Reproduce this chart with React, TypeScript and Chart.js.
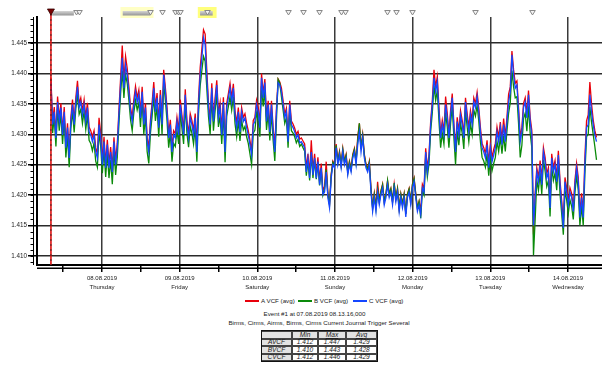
import React, { useEffect, useRef } from 'react';
import { Chart, registerables } from 'chart.js';

Chart.register(...registerables);

const FONT = '"Liberation Sans", Arial, sans-serif';

// hours counted from 07.08.2019 00:00
const START_HOUR = 8.22;
const STEP_HOURS = 0.5124;

const A_VCF = [
  1.4393, 1.4320, 1.4345, 1.4299, 1.4362, 1.4326, 1.4351, 1.4304, 1.4345, 1.4283,
  1.4318, 1.4266, 1.4327, 1.4357, 1.4322, 1.4360, 1.4388, 1.4350, 1.4360, 1.4338,
  1.4357, 1.4328, 1.4352, 1.4312, 1.4306, 1.4296, 1.4306, 1.4278, 1.4268, 1.4327,
  1.4302, 1.4256, 1.4296, 1.4251, 1.4291, 1.4252, 1.4279, 1.4245, 1.4295, 1.4257,
  1.4285, 1.4340, 1.4392, 1.4446, 1.4388, 1.4428, 1.4408, 1.4378, 1.4344, 1.4328,
  1.4357, 1.4379, 1.4360, 1.4373, 1.4334, 1.4378, 1.4323, 1.4351, 1.4295, 1.4278,
  1.4323, 1.4352, 1.4386, 1.4344, 1.4368, 1.4318, 1.4373, 1.4323, 1.4406, 1.4377,
  1.4344, 1.4301, 1.4324, 1.4278, 1.4306, 1.4301, 1.4328, 1.4306, 1.4357,
  1.4331, 1.4306, 1.4374, 1.4323, 1.4301, 1.4334, 1.4323, 1.4306, 1.4334, 1.4280,
  1.4358, 1.4410, 1.4440, 1.4472, 1.4465, 1.4404, 1.4352, 1.4324, 1.4384, 1.4328,
  1.4360, 1.4389, 1.4334, 1.4352, 1.4306, 1.4361, 1.4279, 1.4351, 1.4367, 1.4384,
  1.4360, 1.4383, 1.4339, 1.4318, 1.4344, 1.4311, 1.4344, 1.4328, 1.4334, 1.4318,
  1.4306, 1.4290, 1.4273, 1.4323, 1.4328, 1.4356, 1.4344, 1.4318, 1.4400, 1.4367,
  1.4391, 1.4328, 1.4355, 1.4311, 1.4355, 1.4311, 1.4278, 1.4343, 1.4391, 1.4386,
  1.4376, 1.4355, 1.4333, 1.4343, 1.4294, 1.4355, 1.4322, 1.4317, 1.4310, 1.4300,
  1.4305, 1.4292, 1.4294, 1.4289, 1.4284, 1.4244, 1.4268, 1.4234, 1.4290, 1.4240,
  1.4268, 1.4234, 1.4262, 1.4224, 1.4252, 1.4208,
  1.4214, 1.4255, 1.4204, 1.4186, 1.4234, 1.4256, 1.4251, 1.4284, 1.4256, 1.4272,
  1.4251, 1.4277, 1.4256, 1.4267, 1.4239, 1.4256, 1.4244, 1.4267, 1.4277, 1.4256,
  1.4295, 1.4318, 1.4278, 1.4300, 1.4267, 1.4251, 1.4244, 1.4256, 1.4212, 1.4180,
  1.4203, 1.4180, 1.4222, 1.4191, 1.4207, 1.4218, 1.4190, 1.4202, 1.4223, 1.4202,
  1.4211, 1.4190, 1.4218, 1.4195, 1.4211, 1.4179, 1.4202, 1.4185, 1.4202, 1.4170,
  1.4202, 1.4211, 1.4190, 1.4218, 1.4228, 1.4202, 1.4179, 1.4190, 1.4174, 1.4218,
  1.4211, 1.4277, 1.4244, 1.4267, 1.4322, 1.4356, 1.4406, 1.4378, 1.4395, 1.4344,
  1.4300, 1.4323, 1.4305, 1.4362, 1.4334, 1.4300, 1.4339, 1.4367, 1.4317, 1.4277,
  1.4328, 1.4305, 1.4339, 1.4323, 1.4300, 1.4360,
  1.4334, 1.4311, 1.4339, 1.4323, 1.4360, 1.4351, 1.4369, 1.4344, 1.4311, 1.4285,
  1.4278, 1.4268, 1.4290, 1.4252, 1.4285, 1.4262, 1.4275, 1.4285, 1.4312, 1.4295,
  1.4320, 1.4290, 1.4326, 1.4295, 1.4328, 1.4366, 1.4378, 1.4437, 1.4406, 1.4384,
  1.4388, 1.4344, 1.4295, 1.4311, 1.4351, 1.4360, 1.4334, 1.4372, 1.4328, 1.4306,
  1.4135, 1.4203, 1.4245, 1.4229, 1.4257, 1.4224, 1.4278, 1.4262, 1.4235, 1.4245,
  1.4186, 1.4268, 1.4245, 1.4257, 1.4229, 1.4273, 1.4224, 1.4191, 1.4155, 1.4229,
  1.4212, 1.4191, 1.4212, 1.4203, 1.4180, 1.4224, 1.4252, 1.4229, 1.4170, 1.4203,
  1.4170, 1.4262, 1.4322, 1.4332, 1.4386, 1.4350, 1.4324, 1.4306, 1.4295,
];

const B_VCF = [
  1.4370, 1.4302, 1.4328, 1.4280, 1.4343, 1.4306, 1.4334, 1.4284, 1.4326, 1.4262,
  1.4298, 1.4246, 1.4310, 1.4338, 1.4303, 1.4342, 1.4366, 1.4333, 1.4341, 1.4318,
  1.4338, 1.4308, 1.4332, 1.4290, 1.4285, 1.4273, 1.4286, 1.4256, 1.4246, 1.4303,
  1.4280, 1.4236, 1.4276, 1.4230, 1.4270, 1.4228, 1.4258, 1.4218, 1.4275, 1.4233,
  1.4262, 1.4318, 1.4366, 1.4405, 1.4360, 1.4398, 1.4384, 1.4356, 1.4324, 1.4306,
  1.4336, 1.4356, 1.4340, 1.4352, 1.4312, 1.4356, 1.4300, 1.4330, 1.4272, 1.4252,
  1.4302, 1.4330, 1.4362, 1.4322, 1.4346, 1.4296, 1.4351, 1.4300, 1.4384, 1.4356,
  1.4322, 1.4278, 1.4302, 1.4255, 1.4285, 1.4280, 1.4307, 1.4284, 1.4336,
  1.4310, 1.4284, 1.4350, 1.4302, 1.4279, 1.4313, 1.4302, 1.4284, 1.4312, 1.4255,
  1.4334, 1.4380, 1.4405, 1.4428, 1.4420, 1.4375, 1.4330, 1.4300, 1.4362, 1.4306,
  1.4339, 1.4367, 1.4312, 1.4330, 1.4284, 1.4339, 1.4254, 1.4330, 1.4346, 1.4362,
  1.4340, 1.4362, 1.4318, 1.4296, 1.4323, 1.4289, 1.4323, 1.4307, 1.4313, 1.4296,
  1.4285, 1.4268, 1.4250, 1.4302, 1.4307, 1.4335, 1.4323, 1.4296, 1.4380, 1.4346,
  1.4372, 1.4307, 1.4336, 1.4290, 1.4336, 1.4290, 1.4256, 1.4324, 1.4390, 1.4384,
  1.4362, 1.4340, 1.4318, 1.4328, 1.4278, 1.4340, 1.4306, 1.4302, 1.4296, 1.4286,
  1.4292, 1.4280, 1.4284, 1.4278, 1.4272, 1.4232, 1.4256, 1.4224, 1.4266, 1.4228,
  1.4258, 1.4226, 1.4252, 1.4216, 1.4242, 1.4200,
  1.4210, 1.4242, 1.4200, 1.4184, 1.4232, 1.4254, 1.4249, 1.4282, 1.4254, 1.4270,
  1.4249, 1.4275, 1.4254, 1.4265, 1.4237, 1.4254, 1.4242, 1.4265, 1.4275, 1.4254,
  1.4290, 1.4318, 1.4276, 1.4298, 1.4265, 1.4249, 1.4242, 1.4254, 1.4209, 1.4178,
  1.4201, 1.4178, 1.4210, 1.4189, 1.4206, 1.4217, 1.4189, 1.4201, 1.4224, 1.4201,
  1.4210, 1.4189, 1.4220, 1.4194, 1.4210, 1.4178, 1.4201, 1.4184, 1.4201, 1.4169,
  1.4201, 1.4210, 1.4189, 1.4217, 1.4227, 1.4201, 1.4178, 1.4189, 1.4162, 1.4208,
  1.4200, 1.4262, 1.4230, 1.4252, 1.4305, 1.4336, 1.4380, 1.4356, 1.4372, 1.4322,
  1.4278, 1.4302, 1.4284, 1.4336, 1.4312, 1.4278, 1.4318, 1.4346, 1.4295, 1.4250,
  1.4306, 1.4282, 1.4318, 1.4302, 1.4276, 1.4340,
  1.4312, 1.4288, 1.4318, 1.4300, 1.4340, 1.4330, 1.4348, 1.4322, 1.4288, 1.4262,
  1.4256, 1.4246, 1.4268, 1.4232, 1.4262, 1.4240, 1.4252, 1.4262, 1.4288, 1.4272,
  1.4295, 1.4268, 1.4298, 1.4272, 1.4306, 1.4335, 1.4352, 1.4405, 1.4378, 1.4360,
  1.4362, 1.4318, 1.4262, 1.4282, 1.4326, 1.4335, 1.4305, 1.4346, 1.4302, 1.4278,
  1.4101, 1.4160, 1.4225, 1.4208, 1.4236, 1.4202, 1.4258, 1.4240, 1.4214, 1.4224,
  1.4165, 1.4246, 1.4224, 1.4236, 1.4208, 1.4252, 1.4202, 1.4170, 1.4135, 1.4208,
  1.4192, 1.4170, 1.4192, 1.4182, 1.4160, 1.4204, 1.4232, 1.4208, 1.4150, 1.4182,
  1.4150, 1.4236, 1.4296, 1.4300, 1.4345, 1.4320, 1.4300, 1.4280, 1.4258,
];

const C_VCF = [
  1.4385, 1.4316, 1.4337, 1.4294, 1.4353, 1.4321, 1.4344, 1.4299, 1.4337, 1.4278,
  1.4311, 1.4261, 1.4321, 1.4349, 1.4316, 1.4353, 1.4378, 1.4344, 1.4353, 1.4332,
  1.4349, 1.4321, 1.4344, 1.4304, 1.4299, 1.4288, 1.4299, 1.4271, 1.4261, 1.4316,
  1.4294, 1.4250, 1.4288, 1.4245, 1.4283, 1.4245, 1.4271, 1.4238, 1.4288, 1.4250,
  1.4278, 1.4332, 1.4381, 1.4426, 1.4376, 1.4414, 1.4398, 1.4370, 1.4337, 1.4321,
  1.4349, 1.4370, 1.4353, 1.4365, 1.4327, 1.4370, 1.4316, 1.4344, 1.4288, 1.4271,
  1.4316, 1.4344, 1.4376, 1.4337, 1.4360, 1.4311, 1.4365, 1.4316, 1.4398, 1.4370,
  1.4337, 1.4294, 1.4316, 1.4271, 1.4299, 1.4294, 1.4321, 1.4299, 1.4349,
  1.4324, 1.4299, 1.4365, 1.4316, 1.4294, 1.4327, 1.4316, 1.4299, 1.4327, 1.4271,
  1.4349, 1.4398, 1.4426, 1.4459, 1.4447, 1.4393, 1.4344, 1.4316, 1.4376, 1.4321,
  1.4353, 1.4381, 1.4327, 1.4344, 1.4299, 1.4353, 1.4271, 1.4344, 1.4360, 1.4376,
  1.4353, 1.4376, 1.4332, 1.4311, 1.4337, 1.4304, 1.4337, 1.4321, 1.4327, 1.4311,
  1.4299, 1.4283, 1.4266, 1.4316, 1.4321, 1.4349, 1.4337, 1.4311, 1.4393, 1.4360,
  1.4385, 1.4321, 1.4349, 1.4304, 1.4349, 1.4304, 1.4271, 1.4337, 1.4385, 1.4381,
  1.4370, 1.4349, 1.4327, 1.4337, 1.4288, 1.4349, 1.4316, 1.4311, 1.4304, 1.4294,
  1.4299, 1.4286, 1.4288, 1.4283, 1.4278, 1.4238, 1.4261, 1.4228, 1.4271, 1.4233,
  1.4261, 1.4228, 1.4255, 1.4217, 1.4245, 1.4201,
  1.4205, 1.4238, 1.4196, 1.4179, 1.4228, 1.4250, 1.4245, 1.4278, 1.4250, 1.4266,
  1.4245, 1.4271, 1.4250, 1.4261, 1.4233, 1.4250, 1.4238, 1.4261, 1.4271, 1.4250,
  1.4283, 1.4304, 1.4271, 1.4294, 1.4261, 1.4245, 1.4238, 1.4250, 1.4205, 1.4173,
  1.4196, 1.4173, 1.4205, 1.4184, 1.4201, 1.4212, 1.4184, 1.4196, 1.4217, 1.4196,
  1.4205, 1.4184, 1.4212, 1.4189, 1.4205, 1.4173, 1.4196, 1.4179, 1.4196, 1.4164,
  1.4196, 1.4205, 1.4184, 1.4212, 1.4222, 1.4196, 1.4173, 1.4184, 1.4168, 1.4212,
  1.4205, 1.4271, 1.4238, 1.4261, 1.4316, 1.4349, 1.4393, 1.4370, 1.4386, 1.4337,
  1.4294, 1.4316, 1.4299, 1.4349, 1.4327, 1.4294, 1.4332, 1.4360, 1.4311, 1.4271,
  1.4321, 1.4299, 1.4332, 1.4316, 1.4294, 1.4353,
  1.4327, 1.4304, 1.4332, 1.4316, 1.4353, 1.4344, 1.4362, 1.4337, 1.4304, 1.4278,
  1.4271, 1.4261, 1.4283, 1.4245, 1.4278, 1.4255, 1.4266, 1.4278, 1.4304, 1.4288,
  1.4311, 1.4283, 1.4316, 1.4288, 1.4321, 1.4353, 1.4370, 1.4431, 1.4398, 1.4376,
  1.4381, 1.4337, 1.4288, 1.4304, 1.4344, 1.4353, 1.4327, 1.4365, 1.4321, 1.4299,
  1.4150, 1.4196, 1.4238, 1.4222, 1.4250, 1.4217, 1.4271, 1.4255, 1.4228, 1.4238,
  1.4179, 1.4261, 1.4238, 1.4250, 1.4222, 1.4266, 1.4217, 1.4184, 1.4146, 1.4222,
  1.4205, 1.4184, 1.4205, 1.4196, 1.4173, 1.4217, 1.4245, 1.4222, 1.4163, 1.4196,
  1.4163, 1.4250, 1.4311, 1.4316, 1.4365, 1.4337, 1.4316, 1.4299, 1.4288,
];

const SERIES_NAMES = ['A VCF (avg)', 'B VCF (avg)', 'C VCF (avg)'];
const SERIES_COLORS = ['#e8000b', '#0a8a0a', '#1446ff'];

const X_MIN = 3.91;
const X_MAX = 178.5;
const X_TICKS = [12, 24, 36, 48, 60, 72, 84, 96, 108, 120, 132, 144, 156, 168];
const DAY_TICKS = [24, 48, 72, 96, 120, 144, 168];
const DAY_DATES = ['08.08.2019', '09.08.2019', '10.08.2019', '11.08.2019', '12.08.2019', '13.08.2019', '14.08.2019'];
const DAY_NAMES = ['Thursday', 'Friday', 'Saturday', 'Sunday', 'Monday', 'Tuesday', 'Wednesday'];

const Y_MIN = 1.4085;
const Y_MAX = 1.4493;
const Y_TICKS = [1.41, 1.415, 1.42, 1.425, 1.43, 1.435, 1.44, 1.445];

const EVENT_MAIN = 8.22;
const EVENT_MARKS = [15.94, 16.96, 38.8, 42.6, 46.5, 47.4, 48.2, 56.5, 81.5, 86.0, 91.1, 98.0, 99.0, 112.1, 114.8, 119.9, 139.2, 157.0];
const GREY_RANGES = [[8.6, 15.3], [30.4, 39.0], [54.3, 58.2]];
const YELLOW_RANGES = [[29.7, 39.9], [53.6, 59.4]];

const TABLE_HEAD = ['', 'Min', 'Max', 'Avg'];
const TABLE_ROWS = ['AVCF', 'BVCF', 'CVCF'];
const TABLE_MIN = ['1.412', '1.410', '1.412'];
const TABLE_MAX = ['1.447', '1.443', '1.446'];
const TABLE_AVG = ['1.429', '1.428', '1.429'];

const toPoints = (vals: number[]) => vals.map((v, i) => ({ x: START_HOUR + i * STEP_HOURS, y: v }));

const decorPlugin = {
  id: 'decor',
  afterDraw(chart: any) {
    const { ctx, chartArea: a, scales } = chart;
    const x = scales.x;
    const y = scales.y;
    ctx.save();
    ctx.strokeStyle = '#000';
    ctx.lineWidth = 1;
    ctx.beginPath();
    ctx.moveTo(a.left - 3.5, a.top);
    ctx.lineTo(a.left - 3.5, a.bottom);
    for (let k = Math.ceil(Y_MIN * 1000); k <= Math.floor(Y_MAX * 1000); k++) {
      const py = Math.round(y.getPixelForValue(k / 1000)) + 0.5;
      ctx.moveTo(a.left - 6.5, py);
      ctx.lineTo(a.left - 3.5, py);
    }
    ctx.stroke();
    ctx.lineWidth = 1.5;
    ctx.beginPath();
    ctx.moveTo(a.left, a.bottom + 3.25);
    ctx.lineTo(a.right, a.bottom + 3.25);
    ctx.stroke();

    YELLOW_RANGES.forEach(([s, e], idx) => {
      const x0 = x.getPixelForValue(s);
      const x1 = x.getPixelForValue(e);
      ctx.fillStyle = idx === 0 ? 'rgba(255,255,150,0.55)' : 'rgba(255,255,110,0.9)';
      ctx.fillRect(x0, 7, x1 - x0, 11);
    });
    GREY_RANGES.forEach(([s, e]) => {
      const x0 = x.getPixelForValue(s);
      const x1 = x.getPixelForValue(e);
      const g = ctx.createLinearGradient(0, 11, 0, 16);
      g.addColorStop(0, '#d6d6d6');
      g.addColorStop(1, '#8c8c8c');
      ctx.fillStyle = g;
      ctx.fillRect(x0, 11, x1 - x0, 4.5);
    });
    EVENT_MARKS.forEach((h) => {
      const px = Math.round(x.getPixelForValue(h)) + 0.5;
      ctx.beginPath();
      ctx.moveTo(px - 2.8, 10.5);
      ctx.lineTo(px + 2.8, 10.5);
      ctx.lineTo(px, 15);
      ctx.closePath();
      ctx.fillStyle = '#f2f2f2';
      ctx.fill();
      ctx.strokeStyle = '#888';
      ctx.lineWidth = 1;
      ctx.stroke();
    });
    const ex = x.getPixelForValue(EVENT_MAIN);
    ctx.strokeStyle = '#e01010';
    ctx.lineWidth = 1.6;
    ctx.beginPath();
    ctx.moveTo(ex, 12);
    ctx.lineTo(ex, a.bottom);
    ctx.stroke();
    ctx.strokeStyle = '#222';
    ctx.lineWidth = 0.8;
    ctx.setLineDash([2, 3]);
    ctx.beginPath();
    ctx.moveTo(ex, 14);
    ctx.lineTo(ex, a.bottom);
    ctx.stroke();
    ctx.setLineDash([]);
    ctx.beginPath();
    ctx.moveTo(ex - 3.5, 9);
    ctx.lineTo(ex + 3.5, 9);
    ctx.lineTo(ex, 15);
    ctx.closePath();
    ctx.fillStyle = '#7a0000';
    ctx.fill();
    ctx.strokeStyle = '#300';
    ctx.lineWidth = 0.8;
    ctx.stroke();
    ctx.restore();
  },
};

function ChartCanvas() {
  const ref = useRef<HTMLCanvasElement | null>(null);
  useEffect(() => {
    if (!ref.current) return;
    Chart.defaults.font.family = FONT;
    const seriesVals = [A_VCF, B_VCF, C_VCF];
    const chart = new Chart(ref.current, {
      type: 'line',
      data: {
        datasets: seriesVals.map((vals, i) => ({
          label: SERIES_NAMES[i],
          data: toPoints(vals),
          borderColor: SERIES_COLORS[i],
          backgroundColor: SERIES_COLORS[i],
          borderWidth: 1.3,
          pointRadius: 0,
          tension: 0,
          order: 3 - i,
        })),
      },
      options: {
        animation: false,
        responsive: false,
        maintainAspectRatio: false,
        layout: { padding: { top: 17, left: 0, right: 0, bottom: 0 } },
        plugins: { legend: { display: false }, tooltip: { enabled: false } },
        events: [],
        scales: {
          x: {
            type: 'linear',
            min: X_MIN,
            max: X_MAX,
            afterBuildTicks: (s: any) => {
              s.ticks = X_TICKS.map((v) => ({ value: v }));
            },
            afterFit: (s: any) => {
              s.height = 30;
            },
            ticks: {
              autoSkip: false,
              maxRotation: 0,
              minRotation: 0,
              padding: 2,
              color: '#222',
              font: { size: 6, family: FONT, lineHeight: 1.5 },
              callback: (v: any) => {
                const k = DAY_TICKS.indexOf(Number(v));
                return k >= 0 ? [DAY_DATES[k], DAY_NAMES[k]] : '';
              },
            },
            grid: {
              color: (c: any) => (c.tick && DAY_TICKS.indexOf(c.tick.value) >= 0 ? '#3a3a3a' : 'rgba(0,0,0,0)'),
              lineWidth: 1.5,
              tickColor: '#000',
              tickLength: 7,
            },
            border: { color: '#000', width: 2 },
          },
          y: {
            type: 'linear',
            min: Y_MIN,
            max: Y_MAX,
            afterBuildTicks: (s: any) => {
              s.ticks = Y_TICKS.map((v) => ({ value: v }));
            },
            afterFit: (s: any) => {
              s.width = 37;
            },
            ticks: {
              padding: 1,
              color: '#222',
              font: { size: 6.3, family: FONT },
              callback: (v: any) => Number(v).toFixed(3),
            },
            grid: {
              color: '#2a2a2a',
              lineWidth: 1.5,
              tickColor: '#000',
              tickLength: 9,
            },
            border: { color: '#000', width: 2 },
          },
        },
      },
      plugins: [decorPlugin],
    } as any);
    return () => chart.destroy();
  }, []);
  return <canvas ref={ref} width={602} height={295} style={{ display: 'block', position: 'absolute', left: 0, top: 0 }} />;
}

const txt: React.CSSProperties = { position: 'absolute', fontFamily: FONT, fontSize: 6.2, color: '#222', whiteSpace: 'nowrap', lineHeight: '8px' };

const COL_X = [261, 292, 318, 346, 377];
const ROW_Y = [330.5, 338.5, 346, 353.5, 361];

function StatsTable() {
  const cells: React.ReactNode[] = [];
  const rows = [TABLE_HEAD, ...TABLE_ROWS.map((r, i) => [r, TABLE_MIN[i], TABLE_MAX[i], TABLE_AVG[i]])];
  rows.forEach((row, ri) => {
    row.forEach((val, ci) => {
      const grey = ri === 0 || ci === 0;
      cells.push(
        <div
          key={`${ri}-${ci}`}
          style={{
            position: 'absolute',
            left: COL_X[ci],
            top: ROW_Y[ri],
            width: COL_X[ci + 1] - COL_X[ci],
            height: ROW_Y[ri + 1] - ROW_Y[ri],
            boxSizing: 'border-box',
            border: '0.8px solid #444',
            background: grey ? '#e2e2e2' : '#fff',
            display: 'flex',
            alignItems: 'center',
            justifyContent: 'center',
            fontFamily: FONT,
            fontStyle: 'italic',
            fontSize: 6.6,
            color: '#222',
            lineHeight: '6px',
            textDecoration: ri === 0 ? 'underline' : 'none',
            whiteSpace: 'nowrap',
          }}
        >
          {val}
        </div>
      );
    });
  });
  return (
    <>
      {cells}
      <div
        style={{
          position: 'absolute',
          left: COL_X[0] - 0.5,
          top: ROW_Y[0] - 0.5,
          width: COL_X[4] - COL_X[0] + 1,
          height: ROW_Y[4] - ROW_Y[0] + 1,
          boxSizing: 'border-box',
          border: '1.5px solid #111',
        }}
      />
    </>
  );
}

export default function App() {
  const legendPos = [245, 298, 353];
  return (
    <div style={{ position: 'fixed', left: 0, top: 0, width: 602, height: 367, background: '#fff', overflow: 'hidden' }}>
      <ChartCanvas />
      {SERIES_NAMES.map((n, i) => (
        <div key={n}>
          <div style={{ position: 'absolute', left: legendPos[i], top: 300, width: 14, height: 1.5, background: SERIES_COLORS[i] }} />
          <div style={{ ...txt, left: legendPos[i] + 16, top: 296.5 }}>{n}</div>
        </div>
      ))}
      <div style={{ ...txt, left: 164.5, width: 300, textAlign: 'center', top: 310 }}>Event #1 at 07.08.2019 08.13.16,000</div>
      <div style={{ ...txt, left: 169, width: 300, textAlign: 'center', top: 319 }}>Birms, Cirms, Airms, Birms, Cirms Current Journal Trigger Several</div>
      <StatsTable />
    </div>
  );
}
